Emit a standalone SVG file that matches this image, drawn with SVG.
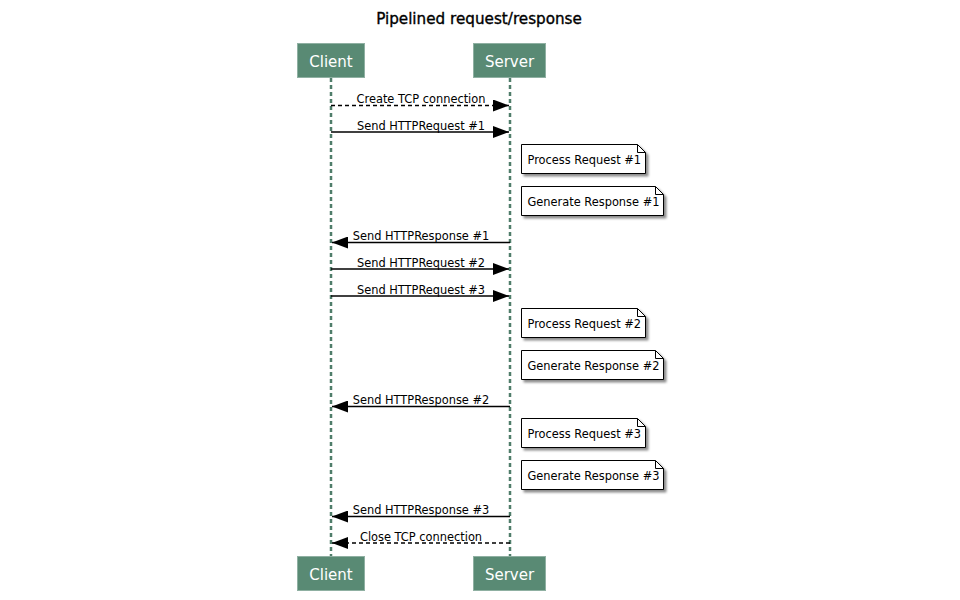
<svg xmlns="http://www.w3.org/2000/svg" width="960" height="600" viewBox="0 0 960 600">
<style>
  text { font-family: "DejaVu Sans", Verdana, "Liberation Sans", sans-serif; }
  .title { font-size: 15.2px; fill: #000; text-anchor: middle; stroke: #000; stroke-width: 0.35; }
  .pbox { fill: #598a74; stroke: #8fb0a2; stroke-width: 1; }
  .ptext { font-size: 15px; fill: #ffffff; text-anchor: middle; }
  .life { stroke: #4f7d6a; stroke-width: 2.5; stroke-dasharray: 4,3; fill: none; }
  .msg { stroke: #000; stroke-width: 1.5; fill: none; marker-end: url(#arrow); }
  .dash { stroke-dasharray: 4,3; }
  .mtext { font-size: 11.4px; fill: #000; text-anchor: middle; }
  .note { fill: #ffffff; stroke: #000; stroke-width: 1; filter: url(#shadow); }
  .fold { fill: none; stroke: #000; stroke-width: 1; }
  .ntext { font-size: 11.4px; fill: #000; }
</style>
<defs>
  <marker id="arrow" markerUnits="userSpaceOnUse" markerWidth="16" markerHeight="12" refX="16" refY="6" orient="auto">
    <path d="M0,0 L16,6 L0,12 Z" fill="#000"/>
  </marker>
  <filter id="shadow" x="-10%" y="-20%" width="130%" height="160%">
    <feDropShadow dx="2.5" dy="2.5" stdDeviation="1.2" flood-color="#000" flood-opacity="0.45"/>
  </filter>
</defs>
<rect width="960" height="600" fill="#ffffff"/>
<text class="title" x="479" y="24">Pipelined request/response</text>

<g id="lifelines">
  <line class="life" x1="331" y1="78" x2="331" y2="556"/>
  <line class="life" x1="510" y1="78" x2="510" y2="556"/>
</g>

<g id="client-top">
  <rect class="pbox" x="297.5" y="43.5" width="67" height="34"/>
  <text class="ptext" x="331" y="67">Client</text>
</g>
<g id="server-top">
  <rect class="pbox" x="473.5" y="43.5" width="72" height="34"/>
  <text class="ptext" x="509.5" y="67">Server</text>
</g>
<g id="client-bottom">
  <rect class="pbox" x="297.5" y="556.5" width="67" height="34"/>
  <text class="ptext" x="331" y="580">Client</text>
</g>
<g id="server-bottom">
  <rect class="pbox" x="473.5" y="556.5" width="72" height="34"/>
  <text class="ptext" x="509.5" y="580">Server</text>
</g>

<g id="connectors">
  <line class="msg dash" x1="331" y1="105.5" x2="509" y2="105.5"/>
  <text class="mtext" x="421" y="103">Create TCP connection</text>
  <line class="msg" x1="331" y1="132" x2="509" y2="132"/>
  <text class="mtext" x="421" y="129.5">Send HTTPRequest #1</text>
  <line class="msg" x1="510" y1="242.5" x2="332" y2="242.5"/>
  <text class="mtext" x="421" y="240">Send HTTPResponse #1</text>
  <line class="msg" x1="331" y1="269" x2="509" y2="269"/>
  <text class="mtext" x="421" y="266.5">Send HTTPRequest #2</text>
  <line class="msg" x1="331" y1="296" x2="509" y2="296"/>
  <text class="mtext" x="421" y="293.5">Send HTTPRequest #3</text>
  <line class="msg" x1="510" y1="406.5" x2="332" y2="406.5"/>
  <text class="mtext" x="421" y="404">Send HTTPResponse #2</text>
  <line class="msg" x1="510" y1="516.5" x2="332" y2="516.5"/>
  <text class="mtext" x="421" y="514">Send HTTPResponse #3</text>
  <line class="msg dash" x1="510" y1="543" x2="332" y2="543"/>
  <text class="mtext" x="421" y="540.5">Close TCP connection</text>
</g>

<g id="note-process-1">
  <path class="note" d="M521.5,144.5 H637.5 L645.5,152.5 V173.5 H521.5 Z"/>
  <path class="fold" d="M637.5,144.5 V152.5 H645.5"/>
  <text class="ntext" x="527.5" y="164">Process Request #1</text>
</g>
<g id="note-generate-1">
  <path class="note" d="M521.5,186.5 H655.5 L663.5,194.5 V215.5 H521.5 Z"/>
  <path class="fold" d="M655.5,186.5 V194.5 H663.5"/>
  <text class="ntext" x="527.5" y="206">Generate Response #1</text>
</g>
<g id="note-process-2">
  <path class="note" d="M521.5,308.5 H637.5 L645.5,316.5 V337.5 H521.5 Z"/>
  <path class="fold" d="M637.5,308.5 V316.5 H645.5"/>
  <text class="ntext" x="527.5" y="328">Process Request #2</text>
</g>
<g id="note-generate-2">
  <path class="note" d="M521.5,350.5 H655.5 L663.5,358.5 V379.5 H521.5 Z"/>
  <path class="fold" d="M655.5,350.5 V358.5 H663.5"/>
  <text class="ntext" x="527.5" y="370">Generate Response #2</text>
</g>
<g id="note-process-3">
  <path class="note" d="M521.5,418.5 H637.5 L645.5,426.5 V447.5 H521.5 Z"/>
  <path class="fold" d="M637.5,418.5 V426.5 H645.5"/>
  <text class="ntext" x="527.5" y="438">Process Request #3</text>
</g>
<g id="note-generate-3">
  <path class="note" d="M521.5,460.5 H655.5 L663.5,468.5 V489.5 H521.5 Z"/>
  <path class="fold" d="M655.5,460.5 V468.5 H663.5"/>
  <text class="ntext" x="527.5" y="480">Generate Response #3</text>
</g>
</svg>
